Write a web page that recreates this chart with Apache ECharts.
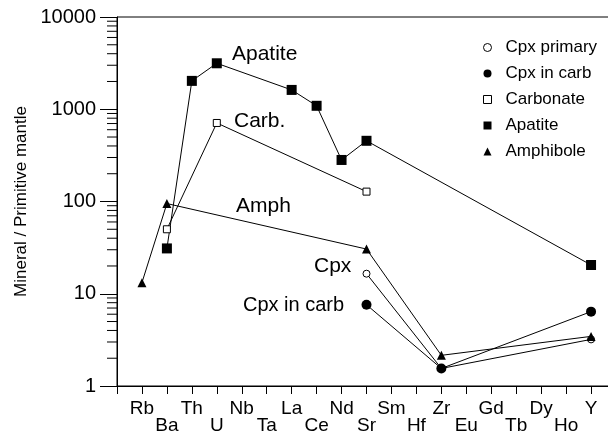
<!DOCTYPE html>
<html>
<head>
<meta charset="utf-8">
<script src="https://cdn.jsdelivr.net/npm/echarts@6/dist/echarts.min.js"></script>
<style>
html,body{margin:0;padding:0;background:#fff;}
#chart{width:608px;height:434px;}
</style>
</head>
<body>
<div id="chart"></div>
<script>
// Element categories along the x axis (positions 1..19)
const elements = ['Rb','Ba','Th','U','Nb','Ta','La','Ce','Nd','Sr','Sm','Hf','Zr','Eu','Gd','Tb','Dy','Ho','Y'];

// Series values: [element, value]
const cpxPrimary = [['Sr', 16.5], ['Zr', 1.55], ['Y', 3.2]];
const cpxInCarb  = [['Sr', 7.6], ['Zr', 1.55], ['Y', 6.4]];
const carbonate  = [['Ba', 50], ['U', 710], ['Sr', 128]];
const apatite    = [['Ba', 31], ['Th', 2030], ['U', 3150], ['La', 1620], ['Ce', 1090], ['Nd', 282], ['Sr', 455], ['Y', 20.5]];
const amphibole  = [['Rb', 13.2], ['Ba', 95], ['Sr', 30.5], ['Zr', 2.15], ['Y', 3.45]];

const yTickLabels = ['1', '10', '100', '1000', '10000'];
const yMinorMultipliers = [2, 3, 4, 5, 6, 7, 8, 9];
const yDecades = [1, 10, 100, 1000];

const FONT = '"Liberation Sans", Arial, Helvetica, sans-serif';

function toXY(arr) {
  return arr.map(d => [elements.indexOf(d[0]) + 1, d[1]]);
}

const minorTicks = [];
yDecades.forEach(d => yMinorMultipliers.forEach(m => minorTicks.push([0, d * m])));

const chart = echarts.init(document.getElementById('chart'), null, {renderer: 'canvas'});

const lineStyle = {color: '#000', width: 1};

const option = {
  animation: false,
  backgroundColor: '#fff',
  textStyle: {fontFamily: FONT, color: '#000'},
  grid: {
    left: 117, top: 17, right: -8, bottom: 48,
    containLabel: false, outerBoundsMode: 'none',
    show: true, borderColor: '#000', borderWidth: 1, backgroundColor: 'transparent'
  },
  xAxis: {
    type: 'value', min: 0, max: 20, interval: 1,
    axisLine: {show: true, lineStyle: {color: '#000', width: 1}},
    axisTick: {show: true, length: 8, inside: false, lineStyle: {color: '#000'}},
    splitLine: {show: false},
    axisLabel: {
      color: '#000', fontSize: 19, fontFamily: FONT, margin: 14, lineHeight: 17,
      formatter: function (v) {
        const i = Math.round(v);
        if (i < 1 || i > elements.length) return '';
        const name = elements[i - 1];
        return (i % 2 === 0) ? '\n' + name : name;
      }
    }
  },
  yAxis: {
    type: 'log', logBase: 10, min: 1, max: 10000,
    name: 'Mineral / Primitive mantle',
    nameLocation: 'middle', nameRotate: 90, nameGap: 87,
    nameTextStyle: {color: '#000', fontSize: 17, fontFamily: FONT},
    axisLine: {show: true, lineStyle: {color: '#000', width: 1}},
    axisTick: {show: true, length: 17, inside: false, lineStyle: {color: '#000'}},
    minorTick: {show: false},
    splitLine: {show: false},
    axisLabel: {
      color: '#000', fontSize: 20, fontFamily: FONT, margin: 21,
      formatter: function (v) {
        const s = String(Math.round(v));
        return yTickLabels.indexOf(s) >= 0 ? s : '';
      }
    }
  },
  legend: {
    orient: 'vertical', left: 478, top: 34,
    itemWidth: 8, itemHeight: 8, itemGap: 9,
    textStyle: {fontSize: 17, color: '#000', fontFamily: FONT, padding: [0, 0, 0, 9]},
    data: [
      {name: 'Cpx primary', icon: 'circle', itemStyle: {color: '#fff', borderColor: '#000', borderWidth: 1}},
      {name: 'Cpx in carb', icon: 'circle', itemStyle: {color: '#000', borderColor: '#000', borderWidth: 0}},
      {name: 'Carbonate', icon: 'rect', itemStyle: {color: '#fff', borderColor: '#000', borderWidth: 1}},
      {name: 'Apatite', icon: 'rect', itemStyle: {color: '#000', borderColor: '#000', borderWidth: 0}},
      {name: 'Amphibole', icon: 'triangle', itemStyle: {color: '#000', borderColor: '#000', borderWidth: 0}}
    ]
  },
  graphic: [
    {type: 'text', left: 232, top: 44, style: {text: 'Apatite', font: '21px ' + FONT, fill: '#000'}},
    {type: 'text', left: 234, top: 111, style: {text: 'Carb.', font: '21px ' + FONT, fill: '#000'}},
    {type: 'text', left: 236, top: 196, style: {text: 'Amph', font: '21px ' + FONT, fill: '#000'}},
    {type: 'text', left: 314, top: 256, style: {text: 'Cpx', font: '21px ' + FONT, fill: '#000'}},
    {type: 'text', left: 243, top: 295, style: {text: 'Cpx in carb', font: '20px ' + FONT, fill: '#000'}}
  ],
  series: [
    {
      name: 'Cpx primary', type: 'line', data: toXY(cpxPrimary),
      symbol: 'circle', symbolSize: 7, showAllSymbol: true,
      itemStyle: {color: '#fff', borderColor: '#000', borderWidth: 1},
      lineStyle: lineStyle, z: 3
    },
    {
      name: 'Cpx in carb', type: 'line', data: toXY(cpxInCarb),
      symbol: 'circle', symbolSize: 10,
      itemStyle: {color: '#000', borderColor: '#000', borderWidth: 0},
      lineStyle: lineStyle, z: 4
    },
    {
      name: 'Carbonate', type: 'line', data: toXY(carbonate),
      symbol: 'rect', symbolSize: 7,
      itemStyle: {color: '#fff', borderColor: '#000', borderWidth: 1},
      lineStyle: lineStyle, z: 3
    },
    {
      name: 'Apatite', type: 'line', data: toXY(apatite),
      symbol: 'rect', symbolSize: 10,
      itemStyle: {color: '#000', borderColor: '#000', borderWidth: 0},
      lineStyle: lineStyle, z: 3
    },
    {
      name: 'Amphibole', type: 'line', data: toXY(amphibole),
      symbol: 'triangle', symbolSize: 9,
      itemStyle: {color: '#000', borderColor: '#000', borderWidth: 0},
      lineStyle: lineStyle, z: 3
    },
    {
      name: 'minorTicks', type: 'custom', clip: false, silent: true,
      data: minorTicks,
      renderItem: function (params, api) {
        const p = api.coord([api.value(0), api.value(1)]);
        return {
          type: 'line',
          shape: {x1: p[0] - 10, y1: p[1], x2: p[0], y2: p[1]},
          style: {stroke: '#000', lineWidth: 1}
        };
      }
    }
  ]
};

chart.setOption(option);
</script>
</body>
</html>
